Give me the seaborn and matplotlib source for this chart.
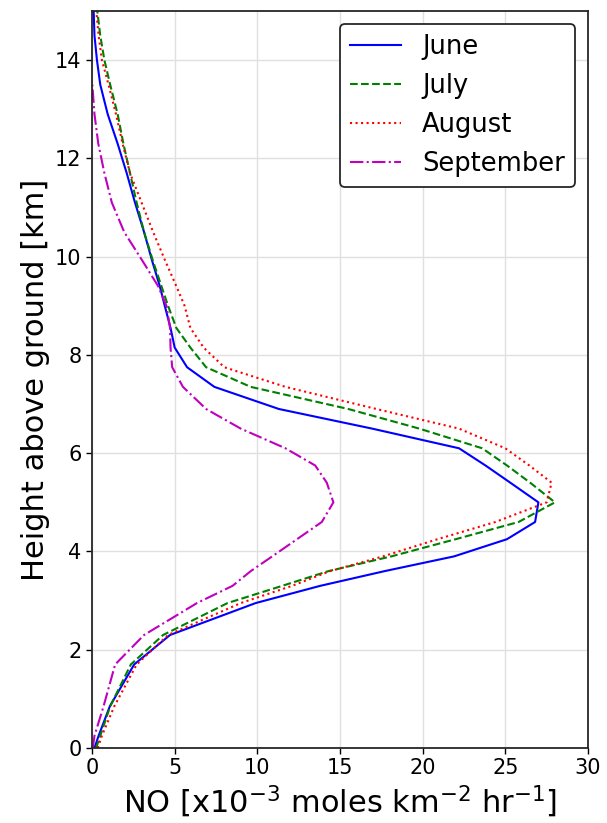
import numpy as np
import pandas as pd
import matplotlib
matplotlib.use("Agg")
import matplotlib.pyplot as plt
import seaborn as sns

# Model levels (km above ground) shared by all monthly profiles
height_km = [0.0, 0.25, 0.85, 1.7, 2.3, 2.95, 3.3, 3.6, 3.9, 4.25, 4.6, 5.0,
             5.4, 5.75, 6.1, 6.5, 6.9, 7.35, 7.75, 8.15, 8.55, 9.0, 9.4, 9.9,
             10.5, 11.1, 11.7, 12.3, 12.9, 13.5, 14.0, 14.5, 15.0]

# Lightning NO production per level, x10^-3 moles km^-2 hr^-1
june = [0.15, 0.4, 1.08, 2.55, 4.72, 9.9, 13.8, 17.7, 21.9, 25.1, 26.8, 27.0,
        25.3, 23.8, 22.2, 16.95, 11.3, 7.4, 5.75, 5.0, 4.75, 4.4, 4.1, 3.65,
        3.15, 2.6, 2.1, 1.55, 0.95, 0.5, 0.3, 0.15, 0.1]
july = [0.25, 0.5, 1.1, 2.35, 4.3, 8.2, 11.5, 14.3, 18.1, 22.0, 25.8, 28.0,
        26.5, 25.1, 23.6, 19.8, 15.5, 9.6, 6.9, 5.95, 5.1, 4.6, 4.2, 3.7,
        3.15, 2.7, 2.3, 1.9, 1.55, 1.1, 0.75, 0.5, 0.32]
august = [0.35, 0.6, 1.35, 2.7, 4.6, 9.0, 12.1, 14.4, 17.6, 20.9, 24.4, 27.5,
          27.8, 26.45, 25.0, 22.2, 17.2, 11.7, 8.0, 6.75, 5.95, 5.6, 5.1, 4.45,
          3.7, 3.0, 2.3, 1.85, 1.45, 1.0, 0.6, 0.4, 0.26]
september = [0.05, 0.15, 0.7, 1.4, 3.15, 6.35, 8.5, 9.6, 10.9, 12.4, 13.9, 14.6,
             14.2, 13.5, 11.7, 9.0, 6.9, 5.5, 4.85, 4.75, 4.72, 4.5, 4.0, 3.08,
             1.95, 1.2, 0.75, 0.38, 0.15, 0.02, np.nan, np.nan, np.nan]

months = ["June", "July", "August", "September"]
series = [june, july, august, september]
colors = ["blue", "green", "red", "m"]
styles = ["-", "--", ":", "-."]

x_ticks = [0, 5, 10, 15, 20, 25, 30]
y_ticks = [0, 2, 4, 6, 8, 10, 12, 14]

fig = plt.figure(figsize=(6.07, 8.23), dpi=100)
ax = fig.add_axes([92 / 607, 75 / 823, 496 / 607, 737 / 823])

for name, vals, col, ls in zip(months, series, colors, styles):
    df = pd.DataFrame({"height": height_km, "no": vals}).dropna()
    sns.lineplot(data=df, x="no", y="height", sort=False, orient="y",
                 color=col, linestyle=ls, linewidth=1.5, label=name, ax=ax)

ax.set_xlim(0, 30)
ax.set_ylim(0, 15)
ax.set_xticks(x_ticks)
ax.set_yticks(y_ticks)
ax.tick_params(labelsize=15, length=4, width=1)
ax.grid(True, color="0.88", linewidth=1)
ax.set_axisbelow(True)
for sp in ax.spines.values():
    sp.set_linewidth(1.3)
    sp.set_color("0.15")

ax.set_xlabel(r"NO [x10$^{-3}$ moles km$^{-2}$ hr$^{-1}$]", fontsize=22)
ax.set_ylabel("Height above ground [km]", fontsize=22)

leg = ax.legend(loc="upper right", fontsize=18.5, frameon=True, fancybox=True,
                framealpha=1, edgecolor="0.15")
leg.get_frame().set_linewidth(1.3)

fig.savefig("out.png", dpi=100)
